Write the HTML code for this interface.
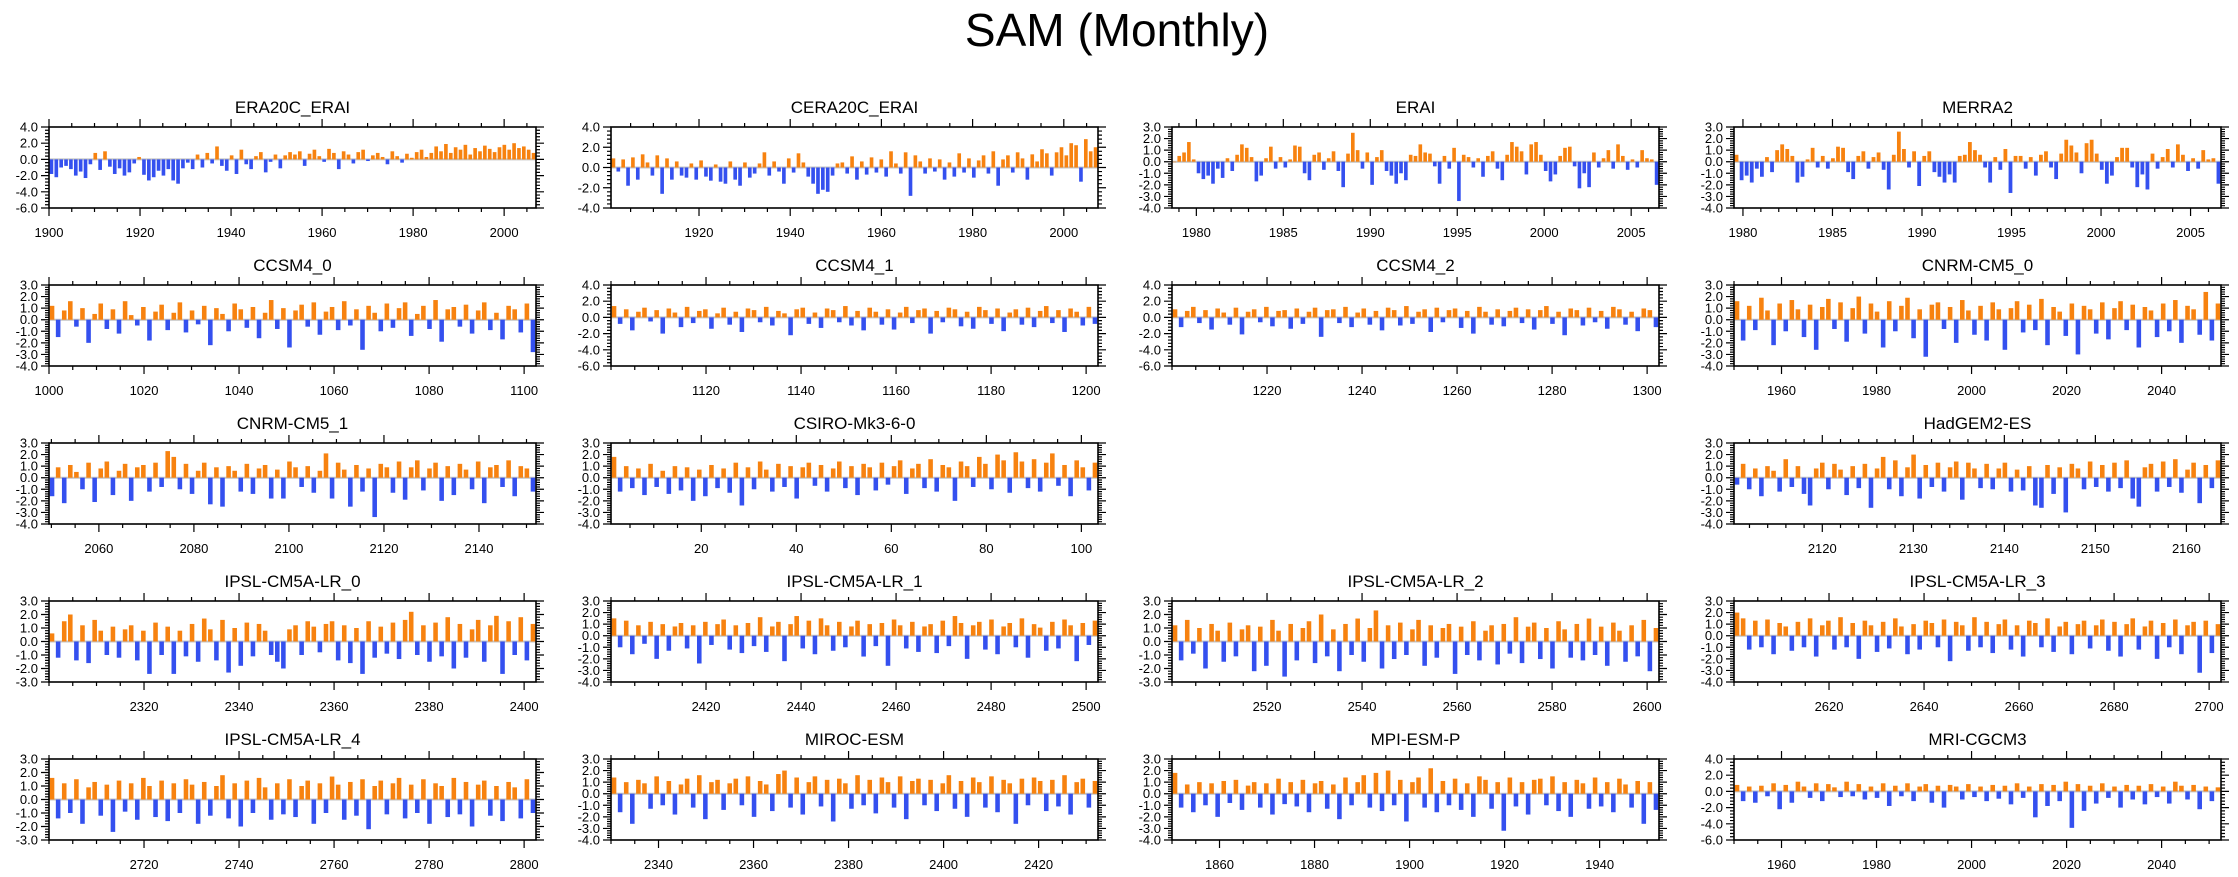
<!DOCTYPE html>
<html><head><meta charset="utf-8"><title>SAM (Monthly)</title>
<style>
html,body{margin:0;padding:0;background:#fff;}
svg{display:block;font-family:"Liberation Sans",Arial,sans-serif;}
</style></head>
<body>
<svg id="chart" width="2238" height="877" viewBox="0 0 2238 877" xmlns="http://www.w3.org/2000/svg">
<text x="1117" y="46" text-anchor="middle" font-size="46">SAM (Monthly)</text>
</svg>
<script>
// ---------- data arrays ----------
const dERA20C = [-1.8,-2.2,-1.0,-0.8,-1.2,-2.0,-1.5,-2.3,-0.6,0.8,-1.3,1.0,-0.9,-1.8,-1.1,-2.0,-1.6,-0.5,0.3,-1.9,
-2.6,-2.2,-1.4,-2.0,-1.2,-2.6,-3.0,-1.1,-0.4,-1.2,0.6,-1.0,0.8,-0.5,1.6,-0.8,-1.4,0.5,-1.8,1.2,
-0.6,-1.2,0.4,0.9,-1.6,-0.3,0.6,-1.1,0.5,0.9,0.6,1.0,-0.8,0.7,1.2,0.4,-0.3,1.3,0.8,-1.2,
1.0,0.6,-0.5,0.9,1.2,-0.2,0.5,0.8,0.3,-0.6,1.0,0.4,-0.4,0.7,0.2,0.9,1.2,0.3,0.8,1.6,
1.0,1.9,0.8,1.5,1.2,1.8,0.6,1.4,1.0,1.7,1.3,0.9,1.5,1.8,1.2,2.0,1.4,1.6,1.2,0.8];
const dCERA20C = [0.9,-0.4,0.8,-1.8,1.0,-1.2,1.3,0.5,-0.8,1.2,-2.6,0.9,-1.2,0.6,-0.8,-1.0,0.4,-1.2,0.7,-0.9,
-1.3,0.3,-1.4,-1.6,0.6,-1.2,-1.8,0.5,-1.0,-0.6,0.4,1.5,-0.8,0.6,-0.4,-1.6,0.9,-0.5,1.4,0.5,
-0.9,-1.6,-2.6,-2.2,-2.4,-0.8,0.4,0.5,-0.6,1.1,-1.2,0.6,-0.7,1.0,-0.5,0.8,-0.9,1.6,0.4,-0.6,
1.5,-2.8,1.2,0.6,-0.6,0.9,-0.4,0.8,-1.2,0.5,-0.9,1.4,-0.5,0.9,-1.0,0.7,1.2,-0.6,1.6,-1.8,
0.8,1.2,-0.5,1.5,0.9,-1.2,1.3,0.6,1.8,1.4,-0.8,1.5,2.0,1.2,2.4,2.2,-1.4,2.8,1.6,2.0];
const dERAI = [0,0.5,0.8,1.7,0.2,-1.0,-1.5,-1.2,-1.9,-0.6,-1.4,0.3,-0.8,0.6,1.5,1.2,0.4,-1.7,-1.2,0.3,
1.3,-0.6,0.4,-0.5,0.2,1.4,1.3,-1.0,-1.6,0.6,0.8,-0.7,0.3,0.9,-0.8,-2.2,0.7,2.5,1.0,-0.6,
0.8,-2.0,0.4,1.0,-0.8,-1.2,-1.9,-1.0,-1.6,0.6,0.5,1.5,0.8,0.7,-0.4,-1.9,0.5,-0.6,1.2,-3.4,
0.6,0.4,-0.5,0.3,-1.3,0.5,0.9,-0.6,-1.6,0.6,1.7,1.3,0.9,-1.1,1.5,1.7,0.6,-0.8,-1.7,-1.1,
0.5,1.2,1.3,-0.4,-2.3,-1.0,-2.2,0.8,-0.5,0.3,1.0,-0.6,1.5,0.5,-0.7,0.2,-0.5,1.0,0.3,0.2,-2.0];
const dMERRA2 = [0.6,-1.6,-1.2,-1.8,-0.6,-1.3,0.4,-0.9,1.0,1.5,1.1,0.5,-1.8,-1.3,0.2,1.2,-0.5,0.5,-0.6,0.3,
1.3,1.2,-0.9,-1.5,0.5,0.9,-0.6,0.4,0.8,-0.7,-2.4,0.6,2.6,1.1,-0.5,0.9,-2.1,0.5,0.9,-0.9,
-1.3,-1.8,-1.1,-1.8,0.5,0.6,1.7,1.0,0.6,-0.5,-1.8,0.4,-0.7,1.1,-2.7,0.5,0.5,-0.6,0.4,-1.2,
0.6,0.9,-0.5,-1.5,0.7,1.9,1.4,0.8,-1.0,1.6,1.9,0.7,-0.7,-1.9,-1.2,0.4,1.2,1.2,-0.5,-2.2,
-1.1,-2.4,0.7,-0.6,0.4,1.1,-0.5,1.5,0.6,-0.8,0.3,-0.6,1.0,0.2,0.3,-1.9];
const dCCSM4_0 = [1.2,-1.5,0.8,1.6,-0.6,1.0,-2.0,0.5,1.4,-0.8,0.9,-1.2,1.6,0.4,-0.5,1.1,-1.8,0.7,1.3,-0.9,
0.6,1.5,-1.1,0.8,-0.4,1.2,-2.2,1.0,0.5,-1.0,1.4,0.9,-0.7,1.1,-1.6,0.6,1.7,-0.8,1.0,-2.4,
0.8,1.3,-0.6,1.5,-1.3,0.7,1.1,-0.9,1.6,-0.5,0.9,-2.6,1.2,0.6,-1.0,1.4,-0.7,1.0,1.5,-1.4,
0.5,1.2,-0.8,1.7,-1.9,0.9,1.1,-0.6,1.3,-1.2,0.8,1.5,-0.9,0.6,-1.7,1.2,0.9,-1.1,1.4,-2.8];
const dCCSM4_1 = [1.4,-0.8,1.0,-1.6,0.7,1.2,-0.5,0.9,-2.0,1.1,0.6,-1.2,1.3,-0.7,0.8,1.0,-1.4,0.5,1.2,-0.9,
0.7,-1.8,1.1,0.9,-0.6,1.3,-1.0,0.8,0.5,-2.2,1.0,1.2,-0.8,0.6,-1.3,1.1,0.9,-0.6,1.4,-1.0,
0.8,-1.6,1.2,0.7,-0.9,1.0,-1.5,0.6,1.3,-0.7,0.9,1.1,-2.0,0.8,-0.6,1.2,1.0,-1.1,0.7,-1.4,
1.3,0.9,-0.8,1.1,-1.7,0.6,1.0,-0.9,1.2,-1.2,0.8,1.4,-0.7,0.9,-1.8,1.1,0.7,-1.0,1.3,-0.8];
const dCCSM4_2 = [1.0,-1.2,0.8,1.3,-0.7,0.9,-1.5,1.1,0.6,-0.9,1.2,-2.1,0.7,1.0,-0.6,1.3,-1.1,0.8,0.9,-1.4,
1.1,-0.8,0.7,1.2,-2.4,0.9,1.0,-0.7,1.3,-1.2,0.6,1.1,-0.9,0.8,-1.6,1.2,0.9,-1.0,1.4,-0.8,
0.7,1.0,-1.8,1.2,-0.6,0.9,1.1,-1.3,0.8,-2.0,1.3,0.7,-0.9,1.0,-1.1,0.8,1.2,-0.7,1.0,-1.5,
0.9,1.4,-0.8,0.7,-2.2,1.1,0.9,-1.0,1.2,-0.6,0.8,-1.4,1.3,1.0,-0.9,0.7,-1.7,1.1,0.9,-1.2];
const dCNRM0 = [1.6,-1.8,1.2,-0.9,1.9,0.8,-2.2,1.4,-1.0,1.7,0.9,-1.5,1.3,-2.6,1.1,1.8,-0.8,1.5,-1.9,1.0,
2.0,-1.2,1.4,0.7,-2.4,1.6,-1.0,1.2,1.9,-1.6,0.9,-3.2,1.3,1.5,-0.8,1.1,-2.0,1.7,0.8,-1.3,
1.2,-1.8,1.5,0.9,-2.6,1.0,1.6,-1.1,1.3,-0.9,1.8,-2.2,1.1,0.7,-1.4,1.4,-3.0,1.2,0.9,-1.2,
1.5,-1.7,1.0,1.6,-0.9,1.3,-2.4,1.1,0.8,-1.5,1.4,-1.0,1.7,-2.0,1.2,0.9,-1.3,2.4,-1.8,1.4];
const dCNRM1 = [-1.6,0.9,-2.2,1.1,0.5,-1.0,1.3,-2.1,0.8,1.4,-1.5,0.6,1.2,-2.0,0.9,1.1,-1.2,1.3,-0.8,2.3,
1.8,-1.0,1.2,-1.4,0.6,1.3,-2.3,0.9,-2.5,1.0,0.6,-1.2,1.2,-1.4,0.8,1.1,-1.8,0.7,-1.8,1.4,
0.9,-0.8,1.0,-1.3,0.6,2.1,-1.8,1.3,0.7,-2.5,1.1,-1.2,0.8,-3.4,1.2,0.9,-1.3,1.4,-1.9,0.9,
1.5,-1.1,0.8,1.3,-2.0,1.0,-1.5,1.2,0.7,-1.0,1.4,-2.2,0.9,1.1,-0.8,1.5,-1.6,1.0,0.8,-1.2];
const dCSIRO = [1.8,-1.2,1.0,-0.9,0.8,-1.5,1.2,-0.8,0.6,-1.4,1.0,-1.1,0.9,-2.0,0.7,-1.6,1.1,-0.9,0.8,-1.3,
1.3,-2.4,0.9,-1.0,1.4,0.7,-1.2,1.2,-0.8,1.0,-1.8,0.9,1.3,-0.7,1.1,-1.2,0.8,1.4,-0.9,1.0,
-1.5,1.2,0.9,-1.1,1.3,-0.6,1.0,1.5,-1.4,0.8,1.2,-0.9,1.6,-1.2,1.1,0.9,-2.0,1.4,1.0,-0.8,
1.8,1.2,-1.0,2.0,1.5,-1.3,2.2,1.4,-0.9,1.6,-1.2,1.3,2.1,-0.7,1.1,-1.6,1.5,0.9,-1.1,1.3];
const dHadGEM = [-0.6,1.2,-1.0,0.8,-1.6,1.0,0.6,-1.2,1.6,-0.8,1.0,-1.4,-2.4,0.8,1.3,-1.0,1.2,0.7,-1.5,1.0,
-0.9,1.2,-2.6,0.8,1.8,-1.0,1.5,-1.6,0.9,2.0,-1.8,1.1,-0.8,1.3,-1.2,0.9,1.4,-1.9,1.3,0.8,
-0.9,1.2,-1.0,0.8,1.3,-1.2,0.7,-1.1,1.0,-2.4,-2.6,1.1,-1.4,0.9,-3.0,1.2,0.8,-1.0,1.4,-0.8,
1.1,-1.2,1.3,-0.9,1.5,-1.8,-2.5,0.9,1.2,-1.2,1.4,-0.8,1.6,-1.3,0.7,1.3,-2.2,1.1,-0.9,1.5];
const dIPSL0 = [0.6,-1.2,1.5,2.0,-1.4,1.2,-1.6,1.6,0.8,-1.0,1.1,-1.2,0.9,1.2,-1.4,0.8,-2.4,1.4,-1.0,1.1,
-2.4,0.8,-1.1,1.3,-1.5,1.7,0.9,-1.4,1.6,-2.3,1.0,-1.8,1.4,-1.1,1.3,0.8,-1.0,-1.5,-2.0,0.9,
1.2,-1.0,1.5,1.1,-0.8,1.3,1.5,-1.4,1.2,-1.6,1.0,-2.4,1.5,-1.2,1.1,-0.9,1.4,-1.3,1.6,2.2,
-1.0,1.2,-1.5,1.4,-1.1,1.8,-2.0,1.3,-1.2,0.9,1.6,-1.5,1.2,1.9,-2.4,1.5,-1.0,1.8,-1.4,1.3];
const dIPSL1 = [1.5,-1.0,1.3,-1.6,0.9,-0.7,1.2,-2.0,1.0,-1.3,0.8,1.1,-1.1,0.9,-2.4,1.2,-0.8,1.0,1.4,-1.2,
0.9,-1.5,1.1,-0.9,1.6,-1.4,0.8,1.2,-2.2,1.0,1.7,-1.1,1.3,-1.6,1.5,0.9,-1.3,1.2,-1.0,0.8,
1.3,-1.8,1.0,-0.9,1.1,-2.6,1.4,0.9,-1.1,1.2,-1.4,0.8,1.0,-1.5,1.3,-0.9,1.7,1.1,-2.0,0.9,
1.2,-1.2,1.4,-1.6,0.8,1.1,-1.0,1.5,-1.9,1.0,0.7,-1.3,1.2,-1.1,1.4,0.9,-2.2,1.1,-0.8,1.3];
const dIPSL2 = [1.2,-1.4,1.6,-0.9,1.0,-2.0,1.3,0.8,-1.5,1.4,-1.1,0.9,1.2,-2.2,1.1,-1.8,1.6,0.8,-2.6,1.3,
-1.4,1.0,1.5,-1.6,2.0,-1.1,0.9,-2.2,1.3,-1.0,1.7,-1.5,1.0,2.3,-2.0,1.2,-1.3,1.4,-1.0,0.9,
1.6,-1.8,1.2,-1.2,1.0,1.3,-2.4,1.1,-1.0,1.5,-1.4,0.8,1.2,-1.7,1.3,-0.9,1.8,-1.6,1.1,1.4,
-1.3,1.0,-2.0,1.5,0.9,-1.2,1.3,-1.4,1.7,-1.0,1.1,-1.8,1.4,0.8,-1.5,1.2,-1.1,1.6,-2.2,1.0];
const dIPSL3 = [2.0,1.5,-1.2,1.3,-1.0,1.4,-1.6,1.1,0.8,-1.3,1.2,-1.0,1.5,-1.8,0.9,1.3,-1.2,1.6,-1.0,1.1,
-2.0,1.3,0.9,-1.4,1.2,-1.1,1.5,0.8,-1.6,1.0,-1.2,1.3,1.1,-1.0,1.4,-2.2,1.2,0.9,-1.3,1.6,
-1.0,1.2,-1.5,1.0,1.4,-1.2,0.9,-1.8,1.3,1.1,-1.0,1.5,-1.4,0.8,1.2,-1.6,1.0,1.3,-1.1,0.9,
1.4,-1.3,1.2,-1.8,1.0,1.5,-1.2,0.8,1.3,-2.0,1.1,-1.0,1.4,-1.6,0.9,1.2,-3.2,1.3,-1.5,1.0];
const dIPSL4 = [1.6,-1.4,1.2,-1.0,1.5,-1.8,0.9,1.3,-1.2,1.1,-2.4,1.4,-0.9,1.2,-1.5,1.6,1.0,-1.3,1.4,-1.6,
1.2,-1.0,1.5,1.1,-1.8,1.3,-1.2,1.0,1.8,-1.4,1.2,-2.0,1.4,-1.0,1.6,0.9,-1.5,1.2,-1.1,1.5,
-1.3,1.0,1.4,-1.8,1.2,-1.0,1.7,1.1,-1.5,1.3,-1.2,1.5,-2.2,1.0,1.4,-1.1,1.2,1.6,-1.4,1.1,
-1.0,1.5,-1.8,1.2,1.0,-1.3,1.6,-1.1,1.3,-2.0,1.1,1.4,-1.2,1.0,-1.6,1.3,0.9,-1.4,1.5,-1.0];
const dMIROC = [1.4,-1.6,1.0,-2.6,1.2,0.9,-1.3,1.5,-1.0,1.1,-1.8,0.8,1.3,-1.2,1.6,-2.2,1.0,1.2,-1.4,0.9,
1.3,-1.0,1.5,-2.0,1.1,0.8,-1.5,1.7,2.0,-1.2,1.4,-1.8,1.0,1.5,-1.1,1.2,-2.4,1.3,0.9,-1.3,
1.6,-1.0,1.2,-1.7,1.4,1.0,-1.2,1.5,-2.2,1.1,1.3,-1.0,1.2,-1.5,0.9,1.6,-1.3,1.1,-2.0,1.4,
1.0,-1.2,1.5,-1.6,1.2,0.9,-2.6,1.3,-1.0,1.4,1.1,-1.5,1.2,-1.1,1.6,-1.8,1.0,1.3,-1.2,1.1];
const dMPI = [1.8,-1.2,0.8,-1.6,1.0,-1.0,0.9,-2.0,1.1,-0.8,1.2,-1.4,0.7,1.0,-1.2,0.9,-1.8,1.3,-0.9,1.0,
-1.1,1.2,-1.6,0.9,1.1,-1.3,0.8,-2.2,1.4,-1.0,1.0,1.6,-1.2,1.8,-1.5,2.0,-1.0,1.2,-2.4,1.0,
1.4,-1.2,2.2,-1.6,1.1,-1.0,1.3,-1.4,0.9,-2.0,1.5,1.2,-1.3,1.0,-3.2,1.4,-1.1,1.0,-1.8,1.2,
1.3,-1.0,1.5,-1.5,1.0,-2.0,1.2,0.9,-1.3,1.4,-1.1,1.0,-1.6,1.3,0.8,-1.2,1.1,-2.6,1.0,-1.4];
const dMRI = [0.8,-1.2,0.6,-1.4,0.7,-0.6,1.0,-2.2,0.8,-1.4,1.2,0.6,-0.8,1.0,-1.2,0.9,0.5,-0.7,1.2,-0.6,
0.9,-1.0,0.6,-0.8,1.0,-1.8,0.7,-0.6,1.0,-1.2,0.6,0.9,-1.4,0.7,-2.0,0.8,0.6,-1.0,0.9,-0.7,
0.6,-1.2,0.8,-0.9,0.7,-1.6,1.0,-0.8,0.6,-3.2,0.9,-1.8,0.8,-1.2,1.2,-4.5,0.9,-2.4,0.7,-1.5,
1.0,-0.8,0.6,-2.0,0.8,-1.0,0.7,-1.6,0.9,-0.7,0.6,-1.5,1.2,0.7,-1.0,0.8,-2.2,0.6,-1.2,0.5];

// x tick label arrays
const tERA20C = [1900,1920,1940,1960,1980,2000];
const tCERA = [1920,1940,1960,1980,2000];
const tERAI = [1980,1985,1990,1995,2000,2005];
const tCCSM0 = [1000,1020,1040,1060,1080,1100];
const tCCSM1 = [1120,1140,1160,1180,1200];
const tCCSM2 = [1220,1240,1260,1280,1300];
const tCNRM0 = [1960,1980,2000,2020,2040];
const tCNRM1 = [2060,2080,2100,2120,2140];
const tCSIRO = [20,40,60,80,100];
const tHad = [2120,2130,2140,2150,2160];
const tIPSL0 = [2320,2340,2360,2380,2400];
const tIPSL1 = [2420,2440,2460,2480,2500];
const tIPSL2 = [2520,2540,2560,2580,2600];
const tIPSL3 = [2620,2640,2660,2680,2700];
const tIPSL4 = [2720,2740,2760,2780,2800];
const tMIROC = [2340,2360,2380,2400,2420];
const tMPI = [1860,1880,1900,1920,1940];
const tMRI = [1960,1980,2000,2020,2040];

// ---------- layout ----------
const colLeft = [49, 611, 1172, 1734];
const PW = 487, PH = 81, TOP0 = 127, ROWP = 158;
const panels = [
 {name:'ERA20C_ERAI',c:0,r:0,x0:1900,x1:2007,y0:-6,y1:4,ys:2,d:dERA20C,t:tERA20C,mn:5},
 {name:'CERA20C_ERAI',c:1,r:0,x0:1900.7,x1:2007.5,y0:-4,y1:4,ys:2,d:dCERA20C,t:tCERA,mn:5},
 {name:'ERAI',c:2,r:0,x0:1978.6,x1:2006.6,y0:-4,y1:3,ys:1,d:dERAI,t:tERAI,mn:1},
 {name:'MERRA2',c:3,r:0,x0:1979.5,x1:2006.7,y0:-4,y1:3,ys:1,d:dMERRA2,t:tERAI,mn:1},
 {name:'CCSM4_0',c:0,r:1,x0:1000,x1:1102.5,y0:-4,y1:3,ys:1,d:dCCSM4_0,t:tCCSM0,mn:5},
 {name:'CCSM4_1',c:1,r:1,x0:1100,x1:1202.5,y0:-6,y1:4,ys:2,d:dCCSM4_1,t:tCCSM1,mn:5},
 {name:'CCSM4_2',c:2,r:1,x0:1200,x1:1302.5,y0:-6,y1:4,ys:2,d:dCCSM4_2,t:tCCSM2,mn:5},
 {name:'CNRM-CM5_0',c:3,r:1,x0:1950,x1:2052.5,y0:-4,y1:3,ys:1,d:dCNRM0,t:tCNRM0,mn:5},
 {name:'CNRM-CM5_1',c:0,r:2,x0:2049.5,x1:2152,y0:-4,y1:3,ys:1,d:dCNRM1,t:tCNRM1,mn:5},
 {name:'CSIRO-Mk3-6-0',c:1,r:2,x0:1,x1:103.5,y0:-4,y1:3,ys:1,d:dCSIRO,t:tCSIRO,mn:5},
 {name:'HadGEM2-ES',c:3,r:2,x0:2110.3,x1:2163.8,y0:-4,y1:3,ys:1,d:dHadGEM,t:tHad,mn:2},
 {name:'IPSL-CM5A-LR_0',c:0,r:3,x0:2300,x1:2402.5,y0:-3,y1:3,ys:1,d:dIPSL0,t:tIPSL0,mn:5},
 {name:'IPSL-CM5A-LR_1',c:1,r:3,x0:2400,x1:2502.5,y0:-4,y1:3,ys:1,d:dIPSL1,t:tIPSL1,mn:5},
 {name:'IPSL-CM5A-LR_2',c:2,r:3,x0:2500,x1:2602.5,y0:-3,y1:3,ys:1,d:dIPSL2,t:tIPSL2,mn:5},
 {name:'IPSL-CM5A-LR_3',c:3,r:3,x0:2600,x1:2702.5,y0:-4,y1:3,ys:1,d:dIPSL3,t:tIPSL3,mn:5},
 {name:'IPSL-CM5A-LR_4',c:0,r:4,x0:2700,x1:2802.5,y0:-3,y1:3,ys:1,d:dIPSL4,t:tIPSL4,mn:5},
 {name:'MIROC-ESM',c:1,r:4,x0:2330,x1:2432.5,y0:-4,y1:3,ys:1,d:dMIROC,t:tMIROC,mn:5},
 {name:'MPI-ESM-P',c:2,r:4,x0:1850,x1:1952.5,y0:-4,y1:3,ys:1,d:dMPI,t:tMPI,mn:5},
 {name:'MRI-CGCM3',c:3,r:4,x0:1950,x1:2052.5,y0:-6,y1:4,ys:2,d:dMRI,t:tMRI,mn:5}
];

const NS = 'http://www.w3.org/2000/svg';
const svg = document.getElementById('chart');
function mk(tag, attrs, parent){
  const e = document.createElementNS(NS, tag);
  for (const k in attrs) e.setAttribute(k, attrs[k]);
  parent.appendChild(e);
  return e;
}
function slug(s){ return s.toLowerCase().replace(/[^a-z0-9]+/g,'-'); }

panels.forEach(p => {
  const L = colLeft[p.c], T = TOP0 + p.r*ROWP, R = L+PW, B = T+PH;
  const xs = v => L + (v - p.x0)/(p.x1 - p.x0)*PW;
  const ys = v => T + (p.y1 - v)/(p.y1 - p.y0)*PH;
  const g = mk('g', {}, svg);
  
  

  const title = mk('text', {x:L+PW/2, y:T-14, 'text-anchor':'middle', 'font-size':17}, g);
  
  
  title.textContent = p.name;

  const z = mk('line', {x1:L, x2:R, y1:ys(0), y2:ys(0), stroke:'#c4c4c4', 'stroke-width':2}, g);
  
  

  const n = p.d.length, slot = PW/n, bw = slot*0.75;
  const bars = mk('g', {}, g);
  
  
  p.d.forEach((v, i) => {
    const xv = p.x0 + (i + 0.5)*(p.x1 - p.x0)/n;
    const cx = xs(xv);
    const y0 = ys(0), yv = ys(v);
    const r = mk('rect', {x:(cx-bw/2).toFixed(2), y:Math.min(y0,yv).toFixed(2), width:bw.toFixed(2),
      height:Math.max(0.5, Math.abs(yv-y0)).toFixed(2), fill: v >= 0 ? '#f7820f' : '#3450ef'}, bars);
    
    
  });

  const fr = mk('rect', {x:L, y:T, width:PW, height:PH, fill:'none', stroke:'#000', 'stroke-width':1.6}, g);
  
  

  let d = '';
  const ym = p.ys/5;
  for (let k = 0; k <= Math.round((p.y1-p.y0)/ym); k++) {
    const v = p.y0 + k*ym, y = ys(v);
    const major = (k % 5 === 0), len = major ? 8 : 4;
    d += `M${L-len},${y}H${L}M${R},${y}H${R+len}`;
  }
  const startMinor = Math.ceil(p.x0/p.mn)*p.mn;
  for (let v = startMinor; v <= p.x1 + 1e-6; v += p.mn) {
    const x = xs(v);
    const major = p.t.indexOf(v) >= 0;
    const len = major ? 8 : 4;
    d += `M${x},${T-len}V${T}M${x},${B}V${B+len}`;
  }
  const tk = mk('path', {d:d, stroke:'#000', 'stroke-width':1.2, fill:'none'}, g);
  
  

  for (let v = p.y0; v <= p.y1 + 1e-6; v += p.ys) {
    const tl = mk('text', {x:L-11, y:ys(v)+4.5, 'text-anchor':'end', 'font-size':13}, g);
    
    
    tl.textContent = v.toFixed(1);
  }
  p.t.forEach(v => {
    const tl = mk('text', {x:xs(v), y:B+29, 'text-anchor':'middle', 'font-size':13}, g);
    
    
    tl.textContent = v;
  });
});
</script>
</body></html>
